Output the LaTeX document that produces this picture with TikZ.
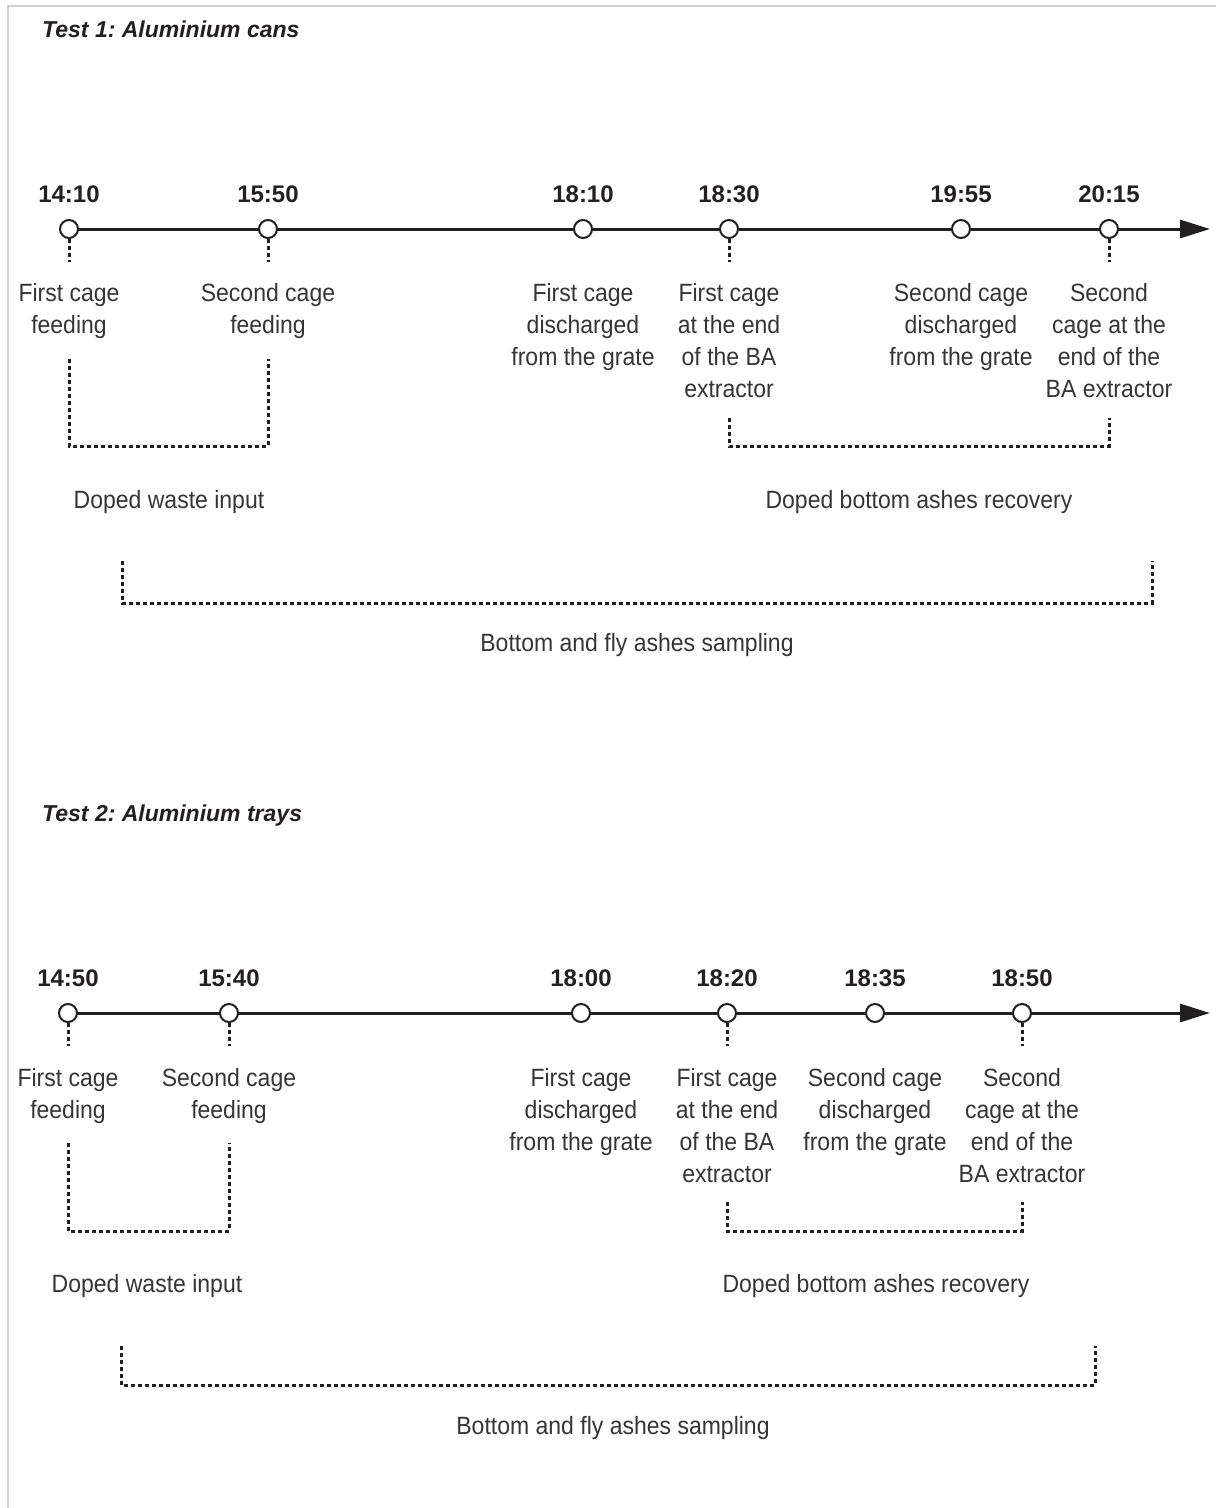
\documentclass[tikz,border=0pt]{standalone}
\usepackage{fontspec}
\setmainfont{Liberation Sans}
\newfontfamily\lightfont{Liberation Sans}[FakeStretch=0.92]
\usetikzlibrary{arrows.meta,backgrounds}
\frenchspacing
\definecolor{ink}{HTML}{231F20}
\definecolor{txt}{HTML}{353535}
\definecolor{framecol}{HTML}{D0D0D0}
\tikzset{
  tline/.style={line width=3pt, draw=ink, -{Triangle[length=30pt,width=18pt]}},
  ev/.style={circle, draw=ink, fill=white, line width=2pt, minimum size=18pt, inner sep=0pt},
  tm/.style={font=\fontsize{24}{28}\selectfont\bfseries, text=ink, inner sep=0pt, anchor=base},
  lbl/.style={font=\lightfont\fontsize{25}{32}\selectfont, text=txt, align=center, inner sep=0pt, anchor=base},
  lblm/.style={font=\lightfont\fontsize{25}{32}\selectfont, text=txt, align=center, inner sep=0pt, anchor=north},
  dotl/.style={draw=ink, line width=3pt, dash pattern=on 4pt off 3pt},
  ttl/.style={font=\fontsize{23}{28}\selectfont\bfseries\itshape, text=ink, anchor=base west, inner sep=0pt},
}
\begin{document}
\begin{tikzpicture}[x=1pt,y=-1pt]
\useasboundingbox (0,0) rectangle (1217,1508);
\draw[framecol, line width=2pt] (8,1508) -- (8,6) -- (1216,6);

% ================= Test 1 =================
\node[ttl] (title1) at (42,37) {Test 1: Aluminium cans};
\node[ev] (e11) at (69,229) {};
\node[ev] (e12) at (268,229) {};
\node[ev] (e13) at (583,229) {};
\node[ev] (e14) at (729,229) {};
\node[ev] (e15) at (961,229) {};
\node[ev] (e16) at (1109,229) {};
\coordinate (end1) at (1210,229);
\begin{scope}[on background layer]
\draw[tline] (e11.center) -- (end1);
\end{scope}
\node[tm] (tm11) at (69,202) {14:10};
\node[tm] (tm12) at (268,202) {15:50};
\node[tm] (tm13) at (583,202) {18:10};
\node[tm] (tm14) at (729,202) {18:30};
\node[tm] (tm15) at (961,202) {19:55};
\node[tm] (tm16) at (1109,202) {20:15};
\coordinate (k11) at (69,262);
\coordinate (k12) at (268,262);
\coordinate (k14) at (729,262);
\coordinate (k16) at (1109,262);
\draw[dotl] (e11.south) -- (k11);
\draw[dotl] (e12.south) -- (k12);
\draw[dotl] (e14.south) -- (k14);
\draw[dotl] (e16.south) -- (k16);
\node[lblm] (l11) at (69,283) {First cage\\feeding};
\node[lblm] (l12) at (268,283) {Second cage\\feeding};
\node[lblm] (l13) at (583,283) {First cage\\discharged\\from the grate};
\node[lblm] (l14) at (729,283) {First cage\\at the end\\of the BA\\extractor};
\node[lblm] (l15) at (961,283) {Second cage\\discharged\\from the grate};
\node[lblm] (l16) at (1109,283) {Second\\cage at the\\end of the\\BA extractor};
% brackets
\coordinate (a1) at (69,359); \coordinate (a1b) at (69,446);
\coordinate (a2) at (268,359); \coordinate (a2b) at (268,446);
\draw[dotl] (a1) -- (a1b) -- (a2b) -- (a2);
\node[lbl] (g1) at (169,508) {Doped waste input};
\coordinate (r1) at (729,418); \coordinate (r1b) at (729,446);
\coordinate (r2) at (1109,418); \coordinate (r2b) at (1109,446);
\draw[dotl] (r1) -- (r1b) -- (r2b) -- (r2);
\node[lbl] (g2) at (919,508) {Doped bottom ashes recovery};
\coordinate (s1) at (122,561); \coordinate (s1b) at (122,603);
\coordinate (s2) at (1152,561); \coordinate (s2b) at (1152,603);
\draw[dotl] (s1) -- (s1b) -- (s2b) -- (s2);
\node[lbl] (g3) at (637,651) {Bottom and fly ashes sampling};

% ================= Test 2 =================
\node[ttl] (title2) at (42,821) {Test 2: Aluminium trays};
\node[ev] (e21) at (68,1013) {};
\node[ev] (e22) at (229,1013) {};
\node[ev] (e23) at (581,1013) {};
\node[ev] (e24) at (727,1013) {};
\node[ev] (e25) at (875,1013) {};
\node[ev] (e26) at (1022,1013) {};
\coordinate (end2) at (1210,1013);
\begin{scope}[on background layer]
\draw[tline] (e21.center) -- (end2);
\end{scope}
\node[tm] (tm21) at (68,986) {14:50};
\node[tm] (tm22) at (229,986) {15:40};
\node[tm] (tm23) at (581,986) {18:00};
\node[tm] (tm24) at (727,986) {18:20};
\node[tm] (tm25) at (875,986) {18:35};
\node[tm] (tm26) at (1022,986) {18:50};
\coordinate (k21) at (68,1046);
\coordinate (k22) at (229,1046);
\coordinate (k24) at (727,1046);
\coordinate (k26) at (1022,1046);
\draw[dotl] (e21.south) -- (k21);
\draw[dotl] (e22.south) -- (k22);
\draw[dotl] (e24.south) -- (k24);
\draw[dotl] (e26.south) -- (k26);
\node[lblm] (l21) at (68,1068) {First cage\\feeding};
\node[lblm] (l22) at (229,1068) {Second cage\\feeding};
\node[lblm] (l23) at (581,1068) {First cage\\discharged\\from the grate};
\node[lblm] (l24) at (727,1068) {First cage\\at the end\\of the BA\\extractor};
\node[lblm] (l25) at (875,1068) {Second cage\\discharged\\from the grate};
\node[lblm] (l26) at (1022,1068) {Second\\cage at the\\end of the\\BA extractor};
\coordinate (a3) at (68,1143); \coordinate (a3b) at (68,1231);
\coordinate (a4) at (229,1143); \coordinate (a4b) at (229,1231);
\draw[dotl] (a3) -- (a3b) -- (a4b) -- (a4);
\node[lbl] (h1) at (147,1292) {Doped waste input};
\coordinate (r3) at (727,1202); \coordinate (r3b) at (727,1231);
\coordinate (r4) at (1022,1202); \coordinate (r4b) at (1022,1231);
\draw[dotl] (r3) -- (r3b) -- (r4b) -- (r4);
\node[lbl] (h2) at (876,1292) {Doped bottom ashes recovery};
\coordinate (s3) at (121,1346); \coordinate (s3b) at (121,1385);
\coordinate (s4) at (1095,1346); \coordinate (s4b) at (1095,1385);
\draw[dotl] (s3) -- (s3b) -- (s4b) -- (s4);
\node[lbl] (h3) at (613,1434) {Bottom and fly ashes sampling};
\end{tikzpicture}
\end{document}
